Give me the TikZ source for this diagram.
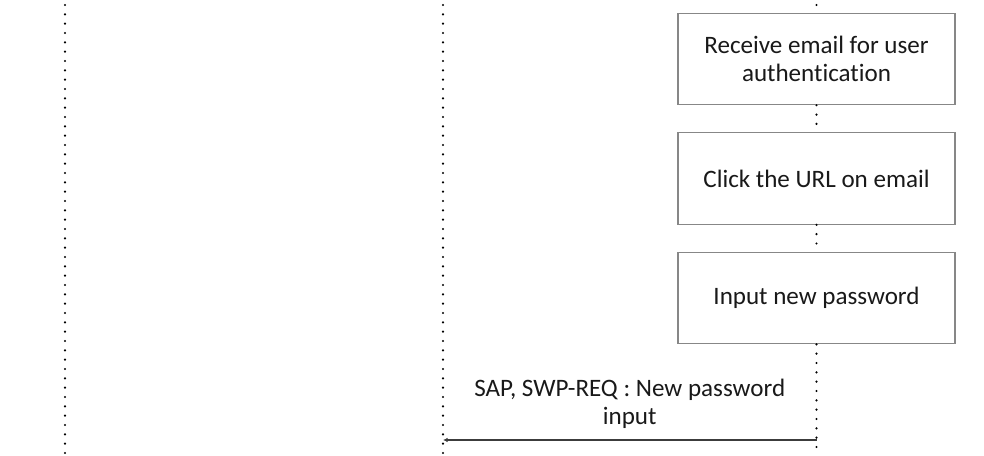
\documentclass[tikz,border=0pt]{standalone}
\usepackage{fontspec}
\setmainfont[Ligatures=NoCommon]{Carlito}
\usepackage{tikz}
\usetikzlibrary{positioning,arrows.meta}
\definecolor{boxgray}{RGB}{135,135,135}
\definecolor{msggray}{RGB}{60,60,60}
\definecolor{textgray}{RGB}{25,25,25}

\begin{document}
\begin{tikzpicture}[x=0.75pt, y=-0.75pt,
  lifeline/.style={line width=1.8pt, dash pattern=on 0pt off 7pt, line cap=round},
  actbox/.style={draw=boxgray, line width=0.9pt, fill=white, minimum width=207.75pt, minimum height=68.5pt,
    align=center, inner sep=0pt, text=textgray, font=\fontsize{18.8}{21.5}\selectfont},
  msglabel/.style={align=center, inner sep=0pt, text=textgray, font=\fontsize{18.8}{21.5}\selectfont},
  msg/.style={draw=msggray, line width=0.9pt, -{Latex[length=3.5pt,width=3.5pt]}}]
\useasboundingbox (0,0) rectangle (984,456);

\node[actbox] (recv) at (816.5,59) {Receive email for user\\authentication};
\node[actbox, below=20.25pt of recv] (click) {Click the URL on email};
\node[actbox, below=20.25pt of click] (newpw) {Input new password};

\coordinate (usertop) at (65,5);
\coordinate (userbot) at (65,456);
\coordinate (srvtop) at (443,5);
\coordinate (srvbot) at (443,456);
\coordinate (clienttop) at (816.5,5);
\coordinate (clientbot) at (816.5,456);

\draw[lifeline] (usertop) -- (userbot);
\draw[lifeline] (srvtop) -- (srvbot);
\draw[lifeline] (clienttop) -- (recv.north);
\draw[lifeline] (recv.south) -- (click.north);
\draw[lifeline] (click.south) -- (newpw.north);
\draw[lifeline] (newpw.south) -- (clientbot);

\coordinate (pwsend) at (816.5,440);
\coordinate (pwrecv) at (443,440);
\draw[msg] (pwsend) -- node[msglabel, above=8pt] (pwlabel) {SAP, SWP-REQ : New password\\input} (pwrecv);
\end{tikzpicture}
\end{document}
